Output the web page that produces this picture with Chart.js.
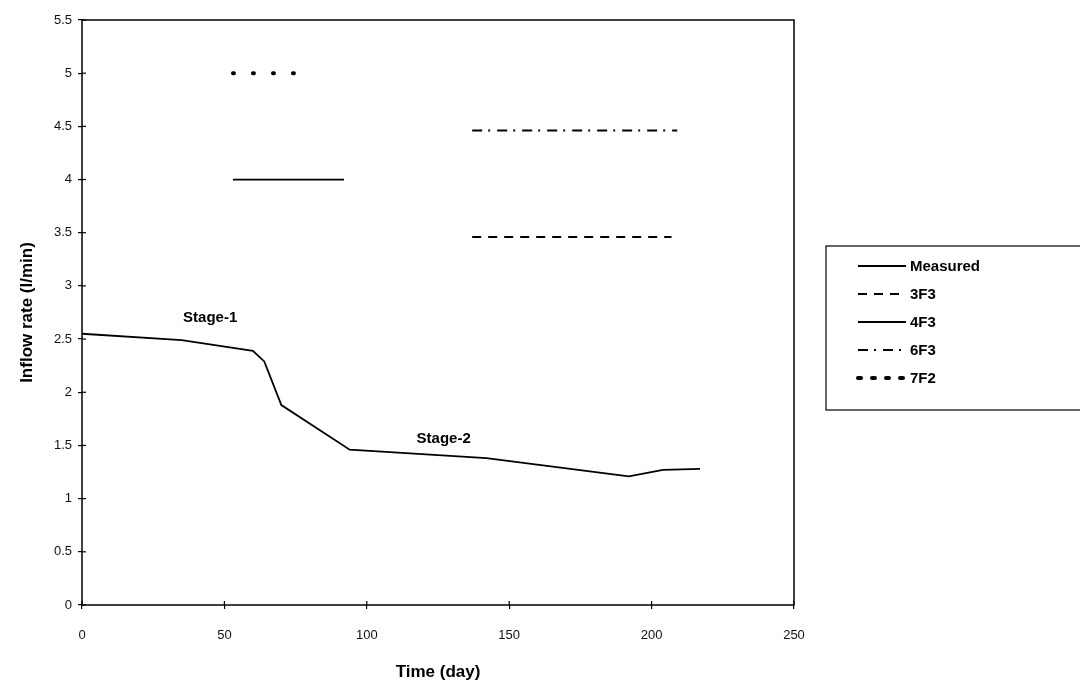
<!DOCTYPE html>
<html>
<head>
<meta charset="utf-8">
<script src="https://cdn.jsdelivr.net/npm/chart.js@4/dist/chart.umd.min.js"></script>
<style>
  html, body { margin: 0; padding: 0; background: #fff; }
  #wrap { width: 1080px; height: 690px; }
</style>
</head>
<body>
<div id="wrap"><canvas id="inflow_chart" width="1080" height="690"></canvas></div>
<script>
// values
const measured_days = [0, 35, 60, 64, 70, 94, 142, 192, 204, 217];
const measured_rate = [2.55, 2.49, 2.39, 2.29, 1.88, 1.46, 1.38, 1.21, 1.27, 1.28];

const f3_3_days = [137, 207];
const f3_3_rate = [3.46, 3.46];
const f3_4_days = [53, 92];
const f3_4_rate = [4.0, 4.0];
const f3_6_days = [137, 209];
const f3_6_rate = [4.46, 4.46];
const f2_7_days = [53, 75];
const f2_7_rate = [5.0, 5.0];

const x_ticks = [0, 50, 100, 150, 200, 250];
const y_ticks = [0, 0.5, 1, 1.5, 2, 2.5, 3, 3.5, 4, 4.5, 5, 5.5];

const stage_labels = ['Stage-1', 'Stage-2'];
const stage_days = [45, 127];
const stage_rate = [2.70, 1.56];

function to_points(xs, ys) {
  return xs.map((x, i) => ({ x: x, y: ys[i] }));
}

const ctx_inflow = document.getElementById('inflow_chart');

const frame_plugin = {
  id: 'frame',
  afterDraw(chart) {
    const c = chart.ctx;
    const a = chart.chartArea;
    const xs = chart.scales.x;
    const ys = chart.scales.y;
    c.save();
    c.strokeStyle = '#000';
    c.lineWidth = 1.5;
    c.strokeRect(a.left, a.top, a.right - a.left, a.bottom - a.top);
    // inner half of the tick marks
    c.lineWidth = 1.2;
    x_ticks.forEach(v => {
      const px = xs.getPixelForValue(v);
      c.beginPath(); c.moveTo(px, a.bottom); c.lineTo(px, a.bottom - 4); c.stroke();
    });
    y_ticks.forEach(v => {
      const py = ys.getPixelForValue(v);
      c.beginPath(); c.moveTo(a.left, py); c.lineTo(a.left + 4, py); c.stroke();
    });

    // stage labels
    c.fillStyle = '#000';
    c.font = 'bold 15px "Liberation Sans", Arial, sans-serif';
    c.textAlign = 'center';
    c.textBaseline = 'middle';
    stage_labels.forEach((t, i) => {
      c.fillText(t, xs.getPixelForValue(stage_days[i]), ys.getPixelForValue(stage_rate[i]));
    });

    // legend box
    c.lineWidth = 1.2;
    c.strokeRect(826, 246, 300, 164);
    c.font = 'bold 15px "Liberation Sans", Arial, sans-serif';
    c.textAlign = 'left';
    chart.data.datasets.forEach((ds, i) => {
      const y = 266 + i * 28;
      c.beginPath();
      c.setLineDash(ds.legend_dash || ds.borderDash || []);
      c.lineWidth = ds.borderWidth;
      c.lineCap = ds.borderCapStyle || 'butt';
      c.moveTo(858, y);
      c.lineTo(906, y);
      c.stroke();
      c.setLineDash([]);
      c.fillText(ds.label, 910, y + 1);
    });
    c.restore();
  }
};

const tick_font = { size: 13, family: '"Liberation Sans", Arial, sans-serif' };
const title_font = { size: 17, weight: 'bold', family: '"Liberation Sans", Arial, sans-serif' };

const inflow_chart = new Chart(ctx_inflow, {
  type: 'line',
  data: {
    datasets: [
      { label: 'Measured', data: to_points(measured_days, measured_rate), borderColor: '#000', borderWidth: 1.8, pointRadius: 0, tension: 0 },
      { label: '3F3', data: to_points(f3_3_days, f3_3_rate), borderColor: '#000', borderWidth: 2, borderDash: [9, 7], pointRadius: 0 },
      { label: '4F3', data: to_points(f3_4_days, f3_4_rate), borderColor: '#000', borderWidth: 1.8, pointRadius: 0 },
      { label: '6F3', data: to_points(f3_6_days, f3_6_rate), borderColor: '#000', borderWidth: 2, borderDash: [10, 6, 2, 7], pointRadius: 0 },
      { label: '7F2', data: to_points(f2_7_days, f2_7_rate), borderColor: '#000', borderWidth: 4, borderCapStyle: 'round', borderDash: [1, 19], legend_dash: [3, 11], pointRadius: 0 }
    ]
  },
  options: {
    responsive: false,
    animation: false,
    layout: { padding: { top: 20, right: 286, left: 0, bottom: 0 } },
    plugins: {
      legend: { display: false },
      tooltip: { enabled: false }
    },
    scales: {
      x: {
        type: 'linear',
        min: 0,
        max: 250,
        afterBuildTicks: (s) => { s.ticks = x_ticks.map(v => ({ value: v })); },
        afterFit: (s) => { s.height = 85; },
        grid: { display: true, drawOnChartArea: false, tickLength: 4, color: '#000', lineWidth: 1.2 },
        border: { display: false },
        ticks: { color: '#111', padding: 19, font: tick_font, callback: (v) => String(v) },
        title: { display: true, text: 'Time (day)', color: '#000', padding: { bottom: 7, top: 0 }, font: title_font }
      },
      y: {
        min: 0,
        max: 5.5,
        afterBuildTicks: (s) => { s.ticks = y_ticks.map(v => ({ value: v })); },
        afterFit: (s) => { s.width = 82; },
        grid: { display: true, drawOnChartArea: false, tickLength: 4, color: '#000', lineWidth: 1.2 },
        border: { display: false },
        ticks: { color: '#111', padding: 6, font: tick_font, callback: (v) => String(v) },
        title: { display: true, text: 'Inflow rate (l/min)', color: '#000', padding: { top: 17, bottom: 0 }, font: title_font }
      }
    }
  },
  plugins: [frame_plugin]
});
</script>
</body>
</html>
